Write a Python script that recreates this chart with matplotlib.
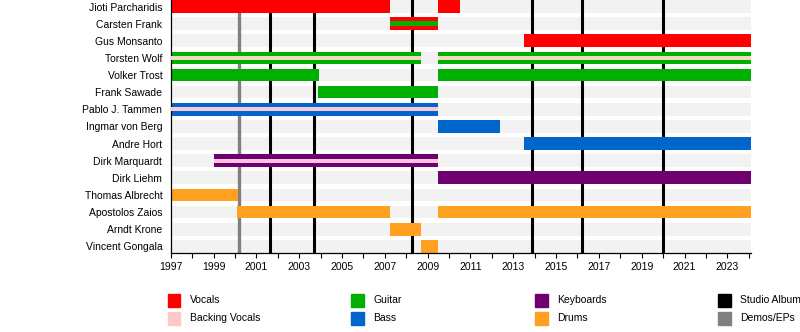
import matplotlib.pyplot as plt
from matplotlib.patches import Rectangle

plt.rcParams['font.family'] = ['Liberation Sans', 'DejaVu Sans']

# Members, top to bottom
members = ["Jioti Parcharidis", "Carsten Frank", "Gus Monsanto", "Torsten Wolf",
           "Volker Trost", "Frank Sawade", "Pablo J. Tammen", "Ingmar von Berg",
           "Andre Hort", "Dirk Marquardt", "Dirk Liehm", "Thomas Albrecht",
           "Apostolos Zaios", "Arndt Krone", "Vincent Gongala"]

START = 1997.0
END = 2024.09

role_colors = {
    "Vocals": "#ff0000",
    "Backing Vocals": "#ffc8c8",
    "Guitar": "#00b000",
    "Bass": "#0066cc",
    "Keyboards": "#700070",
    "Drums": "#ffa020",
}

# Main role periods: member, start, end, role
bar_member = ["Jioti Parcharidis", "Jioti Parcharidis", "Carsten Frank", "Gus Monsanto",
              "Torsten Wolf", "Torsten Wolf", "Volker Trost", "Volker Trost",
              "Frank Sawade", "Pablo J. Tammen", "Ingmar von Berg", "Andre Hort",
              "Dirk Marquardt", "Dirk Liehm", "Thomas Albrecht", "Apostolos Zaios",
              "Apostolos Zaios", "Arndt Krone", "Vincent Gongala"]
bar_start = [1997.0, 2009.5, 2007.22, 2013.5, 1997.0, 2009.5, 1997.0, 2009.5,
             2003.9, 1997.0, 2009.5, 2013.5, 1999.0, 2009.5, 1997.0, 2000.1,
             2009.5, 2007.22, 2008.67]
bar_end = [2007.24, 2010.5, 2009.5, END, 2008.69, END, 2003.93, END,
           2009.5, 2009.5, 2012.38, END, 2009.5, END, 2000.16, 2007.24,
           END, 2008.69, 2009.5]
bar_role = ["Vocals", "Vocals", "Vocals", "Vocals", "Guitar", "Guitar", "Guitar", "Guitar",
            "Guitar", "Bass", "Bass", "Bass", "Keyboards", "Keyboards", "Drums", "Drums",
            "Drums", "Drums", "Drums"]

# Secondary roles drawn as a thin stripe inside the main bar
stripe_member = ["Carsten Frank", "Torsten Wolf", "Torsten Wolf", "Pablo J. Tammen", "Dirk Marquardt"]
stripe_start = [2007.22, 1997.0, 2009.5, 1997.0, 1999.0]
stripe_end = [2009.5, 2008.69, END, 2009.5, 2009.5]
stripe_color = ["#00b000", "#f3d9bf", "#f3d9bf", "#fcc8d4", "#ffc4dc"]
stripe_height = [0.26, 0.2, 0.2, 0.22, 0.22]

# Releases
studio_albums = [2001.64, 2003.7, 2008.27, 2013.89, 2016.2, 2019.98]
demos = [2000.2]

legend_labels = ["Vocals", "Backing Vocals", "Guitar", "Bass", "Keyboards", "Drums",
                 "Studio Album", "Demos/EPs"]
legend_colors = ["#ff0000", "#ffc8c8", "#00b000", "#0066cc", "#700070", "#ffa020",
                 "#000000", "#808080"]

W, H = 800, 332
fig = plt.figure(figsize=(W / 100, H / 100), dpi=100)
ax = fig.add_axes([170.7 / W, (H - 253) / H, 580 / W, 253 / H])

rows = list(range(len(members)))
ypos = {m: i for i, m in enumerate(members)}
bar_h = 0.74

# background stripes
ax.barh(rows, END - START, left=START, height=bar_h, color="#f2f2f2", zorder=0)

for x in studio_albums:
    ax.axvline(x, color="black", lw=2.2, zorder=1)
for x in demos:
    ax.axvline(x, color="#808080", lw=2.4, zorder=1)

for m, s, e, r in zip(bar_member, bar_start, bar_end, bar_role):
    ax.barh(ypos[m], e - s, left=s, height=bar_h, color=role_colors[r], zorder=2)

for m, s, e, c, h in zip(stripe_member, stripe_start, stripe_end, stripe_color, stripe_height):
    ax.barh(ypos[m], e - s, left=s, height=h, color=c, zorder=3)

ax.set_xlim(START, END)
ax.set_ylim(len(members) - 1 + 0.39, -0.38)

ax.set_yticks(rows)
ax.set_yticklabels(members, fontsize=7.5)
ax.tick_params(axis="y", length=0, pad=6)

ax.set_xticks(range(1997, 2024, 2))
ax.set_xticks(range(1998, 2025, 2), minor=True)
ax.tick_params(axis="x", which="both", length=3.5, width=0.8, labelsize=7.5, pad=3)

ax.spines["top"].set_visible(False)
ax.spines["right"].set_visible(False)
ax.spines["left"].set_linewidth(0.9)
ax.spines["bottom"].set_linewidth(0.9)

# legend, two rows by four columns
col_x = [167.5, 351, 535, 718]
row_y = [294, 312]
sq = 12.5
for i, (lab, col) in enumerate(zip(legend_labels, legend_colors)):
    cx = col_x[i // 2]
    cy = row_y[i % 2]
    fig.add_artist(Rectangle((cx / W, (H - cy - sq) / H), sq / W, sq / H,
                             color=col, transform=fig.transFigure))
    fig.text((cx + 22.5) / W, (H - cy - sq / 2) / H, lab, fontsize=7.5, va="center", ha="left")

fig.savefig("out.png", dpi=100)
